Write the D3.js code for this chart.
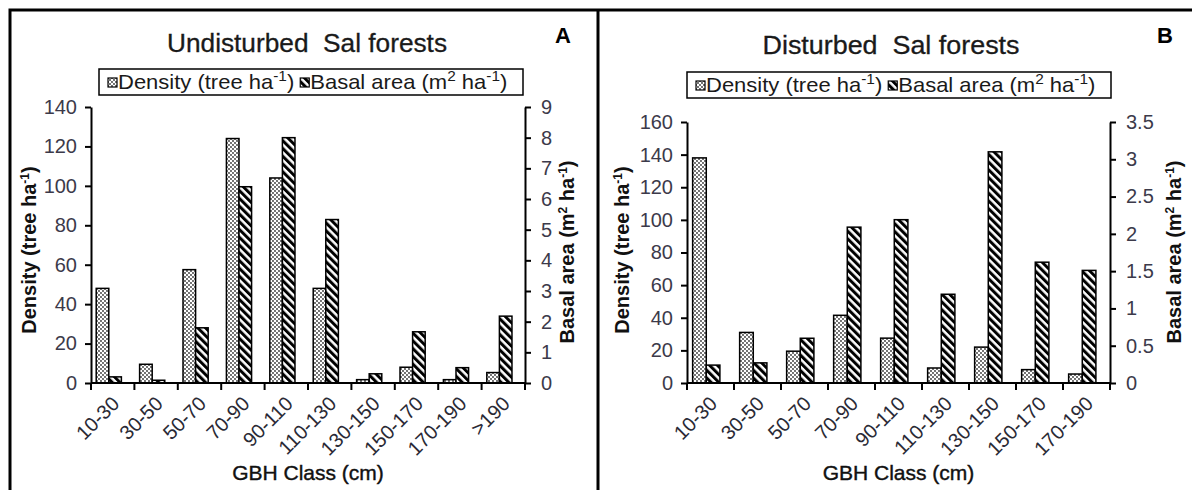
<!DOCTYPE html>
<html>
<head>
<meta charset="utf-8">
<script src="https://cdn.jsdelivr.net/npm/d3@7"></script>
<style>
  body { margin: 0; background: #fff; }
  svg { font-family: "Liberation Sans", Arial, sans-serif; }
  text { white-space: pre; }
  .tick text { fill: #3c3a4a; font-size: 20px; }
  .tick line, .domain { stroke: #000; stroke-width: 2px; }
</style>
</head>
<body>
<svg id="chart"></svg>
<script>
// GBH classes
const classesA = ['10-30', '30-50', '50-70', '70-90', '90-110', '110-130', '130-150', '150-170', '170-190', '>190'];
const classesB = ['10-30', '30-50', '50-70', '70-90', '90-110', '110-130', '130-150', '150-170', '170-190'];

// density (tree ha-1), left axis
const densityA = [48, 9.5, 57.5, 124, 104, 48, 1.7, 8, 1.7, 5.3];
const densityB = [138, 31, 19.5, 41.5, 27.5, 9.2, 22, 8.2, 5.5];

// basal area (m2 ha-1), right axis
const basalA = [0.2, 0.09, 1.8, 6.4, 8.0, 5.33, 0.3, 1.67, 0.5, 2.18];
const basalB = [0.24, 0.27, 0.6, 2.09, 2.19, 1.19, 3.1, 1.62, 1.51];

const leftTicksA = [0, 20, 40, 60, 80, 100, 120, 140];
const rightTicksA = [0, 1, 2, 3, 4, 5, 6, 7, 8, 9];
const leftTicksB = [0, 20, 40, 60, 80, 100, 120, 140, 160];
const rightTicksB = [0, 0.5, 1, 1.5, 2, 2.5, 3, 3.5];

const width = 1192, height = 490;

let svg = d3.select('#chart')
  .attr('width', width)
  .attr('height', height);

// fill patterns
let defs = svg.append('defs');
let dots = defs.append('pattern')
  .attr('id', 'dots')
  .attr('patternUnits', 'userSpaceOnUse')
  .attr('width', 4)
  .attr('height', 4);
dots.append('rect').attr('width', 4).attr('height', 4).attr('fill', '#fff');
dots.append('circle').attr('cx', 1).attr('cy', 1).attr('r', 0.9).attr('fill', '#333');
dots.append('circle').attr('cx', 3).attr('cy', 3).attr('r', 0.9).attr('fill', '#333');

let stripes = defs.append('pattern')
  .attr('id', 'stripes')
  .attr('patternUnits', 'userSpaceOnUse')
  .attr('width', 5.5)
  .attr('height', 10)
  .attr('patternTransform', 'rotate(-45)');
stripes.append('rect').attr('width', 5.5).attr('height', 10).attr('fill', '#fff');
stripes.append('rect').attr('width', 3).attr('height', 10).attr('fill', '#000');

// frame lines
svg.append('path')
  .attr('d', 'M10,490 L10,10 L1192,10 M598,10 L598,490')
  .attr('fill', 'none')
  .attr('stroke', '#000')
  .attr('stroke-width', 3);

function superLabel(sel, parts, small) {
  // parts: [text, isSuper]
  parts.forEach(p => {
    let t = sel.append('tspan').text(p[0]);
    if (p[1]) t.attr('baseline-shift', 'super').attr('font-size', small || '0.6em');
  });
}

function drawPanel(cfg) {
  let g = svg.append('g');
  let y0 = 383;

  let x = d3.scaleBand()
    .domain(cfg.classes)
    .range([cfg.left, cfg.right]);
  let yL = d3.scaleLinear()
    .domain([0, d3.max(cfg.leftTicks)])
    .range([y0, cfg.top]);
  let yR = d3.scaleLinear()
    .domain([0, d3.max(cfg.rightTicks)])
    .range([y0, cfg.top]);

  let bw = x.bandwidth();
  let rows = cfg.classes.map((c, i) => ({ c: c, d: cfg.density[i], b: cfg.basal[i] }));

  g.selectAll('.dens')
    .data(rows)
    .enter()
    .append('rect')
    .attr('x', d => x(d.c) + bw * 0.12)
    .attr('width', bw * 0.29)
    .attr('y', d => yL(d.d))
    .attr('height', d => y0 - yL(d.d))
    .attr('fill', 'url(#dots)')
    .attr('stroke', '#000')
    .attr('stroke-width', 1.5);

  g.selectAll('.basal')
    .data(rows)
    .enter()
    .append('rect')
    .attr('x', d => x(d.c) + bw * 0.41)
    .attr('width', bw * 0.29)
    .attr('y', d => yR(d.b))
    .attr('height', d => y0 - yR(d.b))
    .attr('fill', 'url(#stripes)')
    .attr('stroke', '#000')
    .attr('stroke-width', 1.5);

  // axes
  g.append('g')
    .attr('transform', 'translate(' + cfg.left + ',0)')
    .call(d3.axisLeft(yL).tickValues(cfg.leftTicks).tickSize(6).tickSizeOuter(0).tickPadding(8));
  g.append('g')
    .attr('transform', 'translate(' + cfg.right + ',0)')
    .call(d3.axisRight(yR).tickValues(cfg.rightTicks).tickFormat(d => String(d)).tickSize(6).tickSizeOuter(0).tickPadding(10));

  let xAxis = g.append('g')
    .attr('transform', 'translate(0,' + y0 + ')');
  xAxis.append('line')
    .attr('x1', cfg.left).attr('x2', cfg.right)
    .attr('stroke', '#000').attr('stroke-width', 2);
  xAxis.selectAll('.xt')
    .data(d3.range(cfg.classes.length + 1))
    .enter()
    .append('line')
    .attr('x1', i => cfg.left + i * bw)
    .attr('x2', i => cfg.left + i * bw)
    .attr('y1', 0).attr('y2', 7)
    .attr('stroke', '#000').attr('stroke-width', 2);
  xAxis.selectAll('.xl')
    .data(cfg.classes)
    .enter()
    .append('text')
    .attr('transform', d => 'translate(' + (x(d) + bw / 2 - 2) + ',12) rotate(-45)')
    .attr('text-anchor', 'end')
    .attr('dy', '0.7em')
    .attr('font-size', 20)
    .attr('fill', '#2a2a35')
    .text(d => d);

  // axis titles
  g.append('text')
    .attr('x', (cfg.left + cfg.right) / 2)
    .attr('y', 480)
    .attr('text-anchor', 'middle')
    .attr('font-size', 21)
    .attr('fill', '#111')
    .attr('stroke', '#111')
    .attr('stroke-width', 0.4)
    .text('GBH Class (cm)');

  let lt = g.append('text')
    .attr('transform', 'translate(' + cfg.leftTitleX + ',' + 250 + ') rotate(-90)')
    .attr('text-anchor', 'middle')
    .attr('font-size', 20)
    .attr('font-weight', 'bold')
    .attr('fill', '#111');
  superLabel(lt, [['Density (tree ha', false], ['-1', true], [')', false]]);

  let rt = g.append('text')
    .attr('transform', 'translate(' + cfg.rightTitleX + ',' + 252 + ') rotate(-90)')
    .attr('text-anchor', 'middle')
    .attr('font-size', 20)
    .attr('font-weight', 'bold')
    .attr('fill', '#111');
  superLabel(rt, [['Basal area (m', false], ['2', true], [' ha', false], ['-1', true], [')', false]]);

  // title and panel letter
  g.append('text')
    .attr('x', cfg.titleX)
    .attr('y', cfg.titleY)
    .attr('text-anchor', 'middle')
    .attr('font-size', 25)
    .attr('fill', '#1a1a1a')
    .attr('stroke', '#1a1a1a')
    .attr('stroke-width', 0.3)
    .attr('textLength', cfg.titleW)
    .attr('lengthAdjust', 'spacingAndGlyphs')
    .text(cfg.title);
  g.append('text')
    .attr('x', cfg.letterX)
    .attr('y', 43)
    .attr('text-anchor', 'middle')
    .attr('font-size', 22)
    .attr('font-weight', 'bold')
    .text(cfg.letter);

  // legend
  let lg = g.append('g').attr('transform', 'translate(' + cfg.legendX + ',' + cfg.legendY + ')');
  lg.append('rect')
    .attr('width', 424).attr('height', 26)
    .attr('fill', '#fff').attr('stroke', '#000').attr('stroke-width', 1.5);
  lg.append('rect')
    .attr('x', 9).attr('y', 9).attr('width', 9).attr('height', 9)
    .attr('fill', 'url(#dots)').attr('stroke', '#000').attr('stroke-width', 1.2);
  let sx = 1.1;
  let t1 = lg.append('g')
    .attr('transform', 'translate(19,20) scale(' + sx + ',1)')
    .append('text')
    .attr('font-size', 20)
    .attr('fill', '#1a1a1a');
  superLabel(t1, [['Density (tree ha', false], ['-1', true], [')', false]], '0.7em');
  let w1 = t1.node().getComputedTextLength() * sx;
  lg.append('rect')
    .attr('x', 19 + w1 + 6).attr('y', 9).attr('width', 9).attr('height', 9)
    .attr('fill', 'url(#stripes)').attr('stroke', '#000').attr('stroke-width', 1.2);
  let t2 = lg.append('g')
    .attr('transform', 'translate(' + (19 + w1 + 16) + ',20) scale(' + sx + ',1)')
    .append('text')
    .attr('font-size', 20)
    .attr('fill', '#1a1a1a');
  superLabel(t2, [['Basal area (m', false], ['2', true], [' ha', false], ['-1', true], [')', false]], '0.7em');
}

drawPanel({
  classes: classesA, density: densityA, basal: basalA,
  leftTicks: leftTicksA, rightTicks: rightTicksA,
  left: 91, right: 525, top: 107,
  title: 'Undisturbed  Sal forests', titleX: 307, titleY: 52, titleW: 280,
  letter: 'A', letterX: 563,
  legendX: 99, legendY: 69,
  leftTitleX: 36, rightTitleX: 574
});

drawPanel({
  classes: classesB, density: densityB, basal: basalB,
  leftTicks: leftTicksB, rightTicks: rightTicksB,
  left: 687, right: 1110, top: 122,
  title: 'Disturbed  Sal forests', titleX: 891, titleY: 54, titleW: 257,
  letter: 'B', letterX: 1165,
  legendX: 687, legendY: 72,
  leftTitleX: 629, rightTitleX: 1181
});
</script>
</body>
</html>
